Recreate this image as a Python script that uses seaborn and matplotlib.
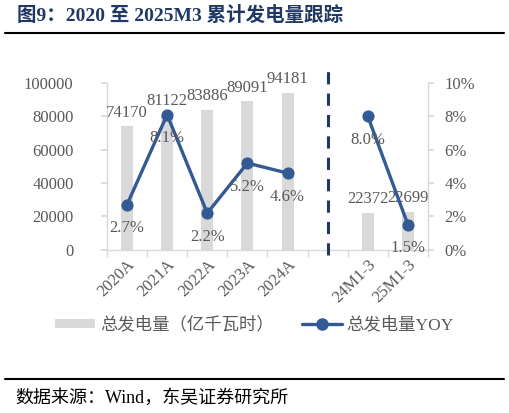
import pandas as pd
import numpy as np
import seaborn as sns
import matplotlib.pyplot as plt
from matplotlib.lines import Line2D
from matplotlib.patches import Patch

# 数据
categories = ['2020A', '2021A', '2022A', '2023A', '2024A', ' ', '24M1-3', '25M1-3']
bar_cats = ['2020A', '2021A', '2022A', '2023A', '2024A', '24M1-3', '25M1-3']
power = [74170, 81122, 83886, 89091, 94181, 22372, 22699]
yoy = [2.7, 8.1, 2.2, 5.2, 4.6, 8.0, 1.5]
segment = [0, 0, 0, 0, 0, 1, 1]

GREY_TXT = '#595959'
BAR_C = '#d9d9d9'
LINE_C = '#335b93'
NAVY = '#1f3864'

sns.set_theme(style='white')
plt.rcParams['font.family'] = ['Liberation Serif', 'Noto Sans CJK SC', 'DejaVu Sans']

df = pd.DataFrame({'cat': bar_cats, 'power': power, 'yoy': yoy, 'seg': segment})
df['pos'] = [categories.index(c) for c in bar_cats]

fig = plt.figure(figsize=(5.09, 4.13), dpi=100)
ax = fig.add_axes([0.210, 0.395, 0.631, 0.404])

sns.barplot(data=df, x='cat', y='power', order=categories, color=BAR_C,
            width=0.3, saturation=1, ax=ax, edgecolor='none')
ax.set_ylim(0, 100000)
ax.set_xlim(-0.5, len(categories) - 0.5)
ax.set_yticks(np.arange(0, 100001, 20000))
ax.set_xlabel('')
ax.set_ylabel('')

for p, v in zip(df['pos'], df['power']):
    ax.annotate(f'{v}', (p, v), xytext=(0, 4), textcoords='offset points',
                ha='center', va='bottom', fontsize=12, color=GREY_TXT)

ax2 = ax.twinx()
sns.lineplot(data=df, x='pos', y='yoy', units='seg', estimator=None, ax=ax2,
             color=LINE_C, linewidth=2.4, marker='o', markersize=8,
             markeredgecolor=LINE_C, legend=False)
ax2.set_ylim(0, 10)
ax2.set_yticks(np.arange(0, 11, 2))
ax2.set_yticklabels([f'{t}%' for t in range(0, 11, 2)])
ax2.set_ylabel('')
ax2.set_xlabel('')
ax2.set_xlim(-0.5, len(categories) - 0.5)

for p, v in zip(df['pos'], df['yoy']):
    ax2.annotate(f'{v:.1f}%', (p, v), xytext=(0, -17), textcoords='offset points',
                 ha='center', va='center', fontsize=12, color=GREY_TXT)

# 分隔虚线
ax.axvline(categories.index(' '), ymin=-0.03, ymax=1.08, clip_on=False,
           color=NAVY, linewidth=2.2, linestyle=(0, (4, 3)), zorder=5)

# 坐标轴样式
for a in (ax, ax2):
    for s in a.spines.values():
        s.set_color(BAR_C)
        s.set_linewidth(1)
    a.spines['top'].set_visible(False)
    a.grid(False)
ax.spines['right'].set_visible(False)
ax2.spines['left'].set_visible(False)
ax2.spines['bottom'].set_visible(False)

ax.set_xticks(np.arange(-0.5, len(categories) + 0.5, 1), minor=True)
ax.tick_params(axis='x', which='minor', length=5, color=BAR_C, bottom=True)
ax.tick_params(axis='x', which='major', length=0, labelsize=12,
               labelcolor=GREY_TXT, pad=5)
for lbl in ax.get_xticklabels():
    lbl.set_rotation(45)
    lbl.set_ha('right')
    lbl.set_rotation_mode('anchor')
ax.tick_params(axis='y', length=4, color=BAR_C, left=True, labelsize=12,
               labelcolor=GREY_TXT, pad=20)
ax2.tick_params(axis='y', length=4, color=BAR_C, right=True, labelsize=12,
                labelcolor=GREY_TXT, pad=8)

# 图例
handles = [Patch(facecolor=BAR_C, edgecolor='none', label='总发电量（亿千瓦时）'),
           Line2D([0], [0], color=LINE_C, linewidth=2.4, marker='o', markersize=8,
                  label='总发电量YOY')]
fig.legend(handles=handles, loc='center', bbox_to_anchor=(0.5, 0.212), ncol=2,
           frameon=False, fontsize=12.5, labelcolor=GREY_TXT, handlelength=2.3,
           handleheight=0.45, columnspacing=1.6, handletextpad=0.3)

# 标题与来源
fig.text(0.033, 0.963, '图9：2020 至 2025M3 累计发电量跟踪', fontsize=14,
         fontweight='bold', color=NAVY, va='center', ha='left')
fig.add_artist(Line2D([0.01, 0.99], [0.92, 0.92], color='black', linewidth=1.5))
fig.add_artist(Line2D([0.01, 0.99], [0.083, 0.083], color='black', linewidth=1.5))
fig.text(0.03, 0.036, '数据来源：Wind，东吴证券研究所', fontsize=13,
         color='black', va='center', ha='left')

fig.savefig('out.png', dpi=100)
